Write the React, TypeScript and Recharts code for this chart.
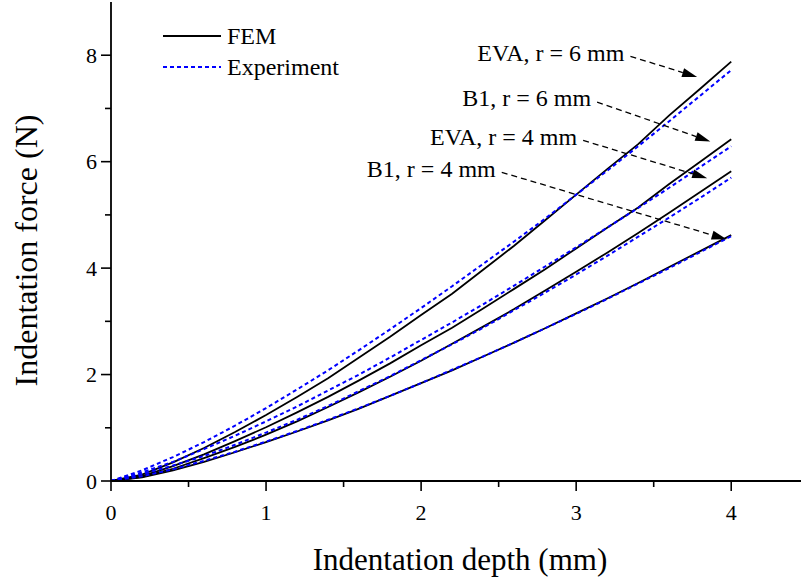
import React from 'react';
import { LineChart, Line, XAxis, YAxis, Legend, ReferenceLine } from 'recharts';

const depth = [0, 0.2, 0.4, 0.6, 0.8, 1.0, 1.2, 1.4, 1.6, 1.8, 2.0, 2.2, 2.4, 2.6, 2.8, 3.0, 3.2, 3.4, 3.6, 3.8, 4.0];

const eva6Fem = [0, 0.12, 0.35, 0.62, 0.92, 1.24, 1.58, 1.93, 2.32, 2.71, 3.12, 3.52, 3.97, 4.42, 4.9, 5.38, 5.86, 6.33, 6.87, 7.37, 7.88];
const eva6Exp = [0, 0.2, 0.45, 0.73, 1.04, 1.37, 1.72, 2.08, 2.46, 2.85, 3.25, 3.66, 4.08, 4.5, 4.93, 5.38, 5.83, 6.29, 6.76, 7.24, 7.72];
const b16Fem = [0, 0.09, 0.28, 0.5, 0.75, 1.01, 1.29, 1.58, 1.89, 2.21, 2.55, 2.88, 3.24, 3.61, 3.98, 4.37, 4.76, 5.14, 5.58, 6.0, 6.42];
const b16Exp = [0, 0.16, 0.36, 0.6, 0.85, 1.12, 1.4, 1.7, 2.0, 2.32, 2.65, 2.98, 3.32, 3.67, 4.03, 4.39, 4.76, 5.13, 5.51, 5.9, 6.29];
const eva4Fem = [0, 0.08, 0.23, 0.43, 0.64, 0.87, 1.12, 1.39, 1.67, 1.96, 2.26, 2.58, 2.9, 3.23, 3.58, 3.93, 4.29, 4.66, 5.04, 5.43, 5.82];
const eva4Exp = [0, 0.13, 0.29, 0.47, 0.68, 0.91, 1.15, 1.41, 1.69, 1.97, 2.27, 2.57, 2.88, 3.21, 3.54, 3.88, 4.23, 4.59, 4.95, 5.32, 5.7];
const b14Fem = [0, 0.07, 0.2, 0.36, 0.54, 0.73, 0.93, 1.14, 1.36, 1.6, 1.84, 2.08, 2.34, 2.6, 2.87, 3.15, 3.43, 3.72, 4.02, 4.32, 4.62];
const b14Exp = [0, 0.09, 0.22, 0.38, 0.55, 0.74, 0.94, 1.15, 1.37, 1.6, 1.84, 2.09, 2.34, 2.6, 2.87, 3.14, 3.42, 3.71, 4.0, 4.3, 4.6];

const xTicks = [0, 0.5, 1, 1.5, 2, 2.5, 3, 3.5, 4];
const yTicks = [0, 1, 2, 3, 4, 5, 6, 7, 8];

const annLabels = ['EVA, r = 6 mm', 'B1, r = 6 mm', 'EVA, r = 4 mm', 'B1, r = 4 mm'];
const annFrom = [
  { x: 3.35, y: 7.98 },
  { x: 3.135, y: 7.12 },
  { x: 3.045, y: 6.4 },
  { x: 2.52, y: 5.8 },
];
const annTo = [
  { x: 3.78, y: 7.59 },
  { x: 3.865, y: 6.38 },
  { x: 3.845, y: 5.69 },
  { x: 3.97, y: 4.54 },
];

const data = depth.map((d, i) => ({
  depth: d,
  eva6Fem: eva6Fem[i],
  eva6Exp: eva6Exp[i],
  b16Fem: b16Fem[i],
  b16Exp: b16Exp[i],
  eva4Fem: eva4Fem[i],
  eva4Exp: eva4Exp[i],
  b14Fem: b14Fem[i],
  b14Exp: b14Exp[i],
}));

const FONT = '"Liberation Serif", "Times New Roman", Times, serif';
const BLUE = '#0000ff';

const BottomTick = (props: any) => {
  const { x, y, payload } = props;
  const major = Number.isInteger(payload.value);
  return (
    <g>
      <line x1={x} x2={x} y1={y} y2={y + (major ? 10 : 6)} stroke="#000" strokeWidth={1.6} />
      {major && (
        <text x={x} y={y + 39} textAnchor="middle" fontSize={22} fontFamily={FONT} fill="#000">
          {payload.value}
        </text>
      )}
    </g>
  );
};

const TopTick = (props: any) => {
  const { x, y } = props;
  return <line x1={x} x2={x} y1={y} y2={y + 3} stroke="#000" strokeWidth={1.2} />;
};

const LeftTick = (props: any) => {
  const { x, y, payload } = props;
  const major = payload.value % 2 === 0;
  return (
    <g>
      <line x1={x - (major ? 10 : 6)} x2={x} y1={y} y2={y} stroke="#000" strokeWidth={1.6} />
      {major && (
        <text x={x - 14} y={y} dy="0.35em" textAnchor="end" fontSize={22} fontFamily={FONT} fill="#000">
          {payload.value}
        </text>
      )}
    </g>
  );
};

const XTitle = (props: any) => {
  const vb = props.viewBox || { x: 111, y: 481, width: 690 };
  return (
    <text x={vb.x + vb.width / 2 + 4} y={vb.y + 89} textAnchor="middle" fontSize={31} fontFamily={FONT} fill="#000">
      Indentation depth (mm)
    </text>
  );
};

const YTitle = (props: any) => {
  const vb = props.viewBox || { x: 0, y: 2, height: 479 };
  const cx = 26;
  const cy = vb.y + vb.height / 2 + 9;
  return (
    <text
      x={cx}
      y={cy}
      dy="0.35em"
      transform={`rotate(-90 ${cx} ${cy})`}
      textAnchor="middle"
      fontSize={32}
      fontFamily={FONT}
      fill="#000"
    >
      Indentation force (N)
    </text>
  );
};

const renderLegend = () => (
  <svg width={360} height={90} style={{ overflow: 'visible', display: 'block' }}>
    <line x1={163} x2={221} y1={36} y2={36} stroke="#000" strokeWidth={1.8} />
    <text x={227} y={44} fontSize={24} fontFamily={FONT} fill="#000">FEM</text>
    <line x1={163} x2={221} y1={67} y2={67} stroke={BLUE} strokeWidth={2} strokeDasharray="4 3" />
    <text x={227} y={75} fontSize={24} fontFamily={FONT} fill="#000">Experiment</text>
  </svg>
);

const makeArrow = (label: string) => (p: any) => {
  const { x1, y1, x2, y2 } = p;
  const dx = x2 - x1;
  const dy = y2 - y1;
  const len = Math.hypot(dx, dy) || 1;
  const ux = dx / len;
  const uy = dy / len;
  const ah = 15;
  const aw = 4.5;
  const bx = x2 - ux * ah;
  const by = y2 - uy * ah;
  return (
    <g>
      <text x={x1 - 6} y={y1 - 4} dy="0.35em" textAnchor="end" fontSize={24} fontFamily={FONT} fill="#000">
        {label}
      </text>
      <line x1={x1} y1={y1} x2={bx} y2={by} stroke="#000" strokeWidth={1.3} strokeDasharray="6 4" />
      <polygon
        points={`${x2},${y2} ${bx - uy * aw},${by + ux * aw} ${bx + uy * aw},${by - ux * aw}`}
        fill="#000"
      />
    </g>
  );
};

export default function App() {
  return (
    <div style={{ position: 'absolute', left: 0, top: 0, width: 801, height: 584, overflow: 'hidden', background: '#fff' }}>
      <LineChart width={801} height={584} data={data} margin={{ top: 2, right: 0, bottom: 0, left: 0 }}>
        <XAxis
          xAxisId={0}
          dataKey="depth"
          type="number"
          domain={[0, 4.45]}
          allowDataOverflow
          ticks={xTicks}
          interval={0}
          height={103}
          tickSize={0}
          tickMargin={0}
          tick={<BottomTick />}
          axisLine={{ stroke: '#000', strokeWidth: 1.8 }}
          label={<XTitle />}
        />
        <XAxis
          xAxisId="top"
          orientation="top"
          type="number"
          dataKey="depth"
          domain={[0, 4.45]}
          allowDataOverflow
          ticks={xTicks}
          interval={0}
          height={0}
          tickSize={0}
          tickMargin={0}
          tick={<TopTick />}
          axisLine={{ stroke: '#000', strokeWidth: 1.8 }}
        />
        <YAxis
          yAxisId={0}
          type="number"
          domain={[0, 9]}
          allowDataOverflow
          ticks={yTicks}
          interval={0}
          width={111}
          tickSize={0}
          tickMargin={0}
          tick={<LeftTick />}
          axisLine={{ stroke: '#000', strokeWidth: 1.8 }}
          label={<YTitle />}
        />
        <Legend
          layout="vertical"
          align="center"
          verticalAlign="middle"
          content={renderLegend}
          wrapperStyle={{ left: 0, top: 0, width: 360, height: 90 }}
        />
        <Line dataKey="eva6Fem" stroke="#000" strokeWidth={1.8} dot={false} isAnimationActive={false} legendType="none" />
        <Line dataKey="b16Fem" stroke="#000" strokeWidth={1.8} dot={false} isAnimationActive={false} legendType="none" />
        <Line dataKey="eva4Fem" stroke="#000" strokeWidth={1.8} dot={false} isAnimationActive={false} legendType="none" />
        <Line dataKey="b14Fem" stroke="#000" strokeWidth={1.8} dot={false} isAnimationActive={false} legendType="none" />
        <Line dataKey="eva6Exp" stroke={BLUE} strokeWidth={2} strokeDasharray="4 3" dot={false} isAnimationActive={false} legendType="none" />
        <Line dataKey="b16Exp" stroke={BLUE} strokeWidth={2} strokeDasharray="4 3" dot={false} isAnimationActive={false} legendType="none" />
        <Line dataKey="eva4Exp" stroke={BLUE} strokeWidth={2} strokeDasharray="4 3" dot={false} isAnimationActive={false} legendType="none" />
        <Line dataKey="b14Exp" stroke={BLUE} strokeWidth={2} strokeDasharray="4 3" dot={false} isAnimationActive={false} legendType="none" />
        {annLabels.map((lab, i) => (
          <ReferenceLine
            key={lab}
            segment={[annFrom[i], annTo[i]]}
            ifOverflow="visible"
            shape={makeArrow(lab)}
          />
        ))}
      </LineChart>
    </div>
  );
}
